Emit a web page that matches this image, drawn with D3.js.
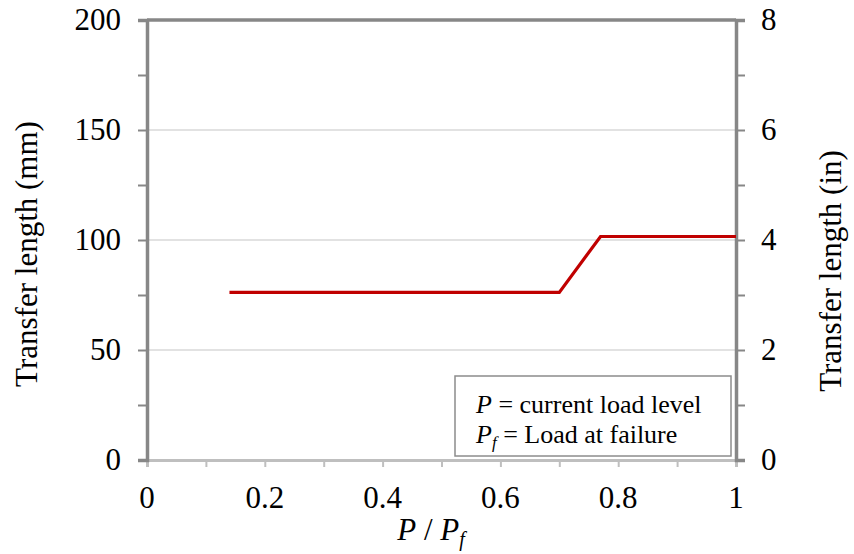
<!DOCTYPE html>
<html><head><meta charset="utf-8">
<script src="https://cdn.jsdelivr.net/npm/d3@7"></script>
<style>
@font-face { font-family: 'ChartSerif'; src: local('Liberation Serif'), local('LiberationSerif'); font-style: normal; font-weight: 400; }
@font-face { font-family: 'ChartSerif'; src: local('Liberation Serif Italic'), local('LiberationSerif-Italic'); font-style: italic; font-weight: 400; }
</style>
</head>
<body style="margin:0">
<svg id="chart" width="854" height="554"></svg>
<script>
const ratioX = [0.14, 0.70, 0.77, 1.0];
const transferMM = [76.2, 76.2, 101.6, 101.6];
const xTicks = [0, 0.2, 0.4, 0.6, 0.8, 1];
const xTickLabels = ["0", "0.2", "0.4", "0.6", "0.8", "1"];
const yTicksMM = [0, 50, 100, 150, 200];
const yTicksIn = [0, 2, 4, 6, 8];
const legendLines = [["P", "", " = current load level"], ["P", "f", " = Load at failure"]];

const FONT = "'Liberation Serif'";
const svg = d3.select("#chart");
const L = 147, R = 736, T = 20, B = 460;
const x = d3.scaleLinear().domain([0, 1]).range([L, R]);
const y = d3.scaleLinear().domain([0, 200]).range([B, T]);
const yIn = d3.scaleLinear().domain([0, 8]).range([B, T]);
const FS = 31;

function txt(sel) { return sel.style("font-family", FONT); }

// gridlines
svg.append("g").selectAll("line").data(yTicksMM.filter(d => d > 0 && d < 200)).join("line")
  .attr("x1", L).attr("x2", R).attr("y1", d => y(d)).attr("y2", d => y(d))
  .attr("stroke", "#d9d9d9").attr("stroke-width", 1.5);

// bottom axis
const xAxis = d3.axisBottom(x).tickValues(d3.range(0, 1.0001, 0.1)).tickSize(7).tickFormat("");
const gx = svg.append("g").attr("transform", `translate(0,${B})`).call(xAxis);
gx.select(".domain").attr("stroke", "#bfbfbf").attr("stroke-width", 3);
gx.selectAll(".tick line").attr("stroke", "#bfbfbf").attr("stroke-width", 2);
gx.selectAll(".tick text").remove();
xTicks.forEach((d, i) => {
  svg.append("text").attr("x", x(d)).attr("y", 508).attr("text-anchor", "middle")
    .style("font-family", FONT).style("font-size", FS + "px").text(xTickLabels[i]);
});

// left axis
const yAxis = d3.axisLeft(y).tickValues(d3.range(0, 201, 25)).tickSize(9).tickFormat("");
const gy = svg.append("g").attr("transform", `translate(${L},0)`).call(yAxis);
gy.select(".domain").attr("stroke", "#878787").attr("stroke-width", 3.5);
gy.selectAll(".tick line").attr("stroke", "#878787").attr("stroke-width", 2);
gy.selectAll(".tick text").remove();
yTicksMM.forEach(d => {
  svg.append("text").attr("x", 121).attr("y", y(d) + 10).attr("text-anchor", "end")
    .style("font-family", FONT).style("font-size", FS + "px").text(d);
});

// right axis
const yAxisR = d3.axisRight(yIn).tickValues(d3.range(0, 8.01, 1)).tickSize(9).tickFormat("");
const gr = svg.append("g").attr("transform", `translate(${R},0)`).call(yAxisR);
gr.select(".domain").attr("stroke", "#878787").attr("stroke-width", 3.5);
gr.selectAll(".tick line").attr("stroke", "#878787").attr("stroke-width", 2);
gr.selectAll(".tick text").remove();
yTicksIn.forEach(d => {
  svg.append("text").attr("x", 761).attr("y", yIn(d) + 10).attr("text-anchor", "start")
    .style("font-family", FONT).style("font-size", FS + "px").text(d);
});

// top border
svg.append("line").attr("x1", L).attr("x2", R).attr("y1", T).attr("y2", T)
  .attr("stroke", "#878787").attr("stroke-width", 3.5);

// data line
svg.append("path").datum(ratioX.map((d, i) => [d, transferMM[i]]))
  .attr("fill", "none").attr("stroke", "#c00000").attr("stroke-width", 3.2)
  .attr("d", d3.line().x(d => x(d[0])).y(d => y(d[1])));

// axis titles
svg.append("text").attr("transform", "translate(37,254) rotate(-90)")
  .attr("text-anchor", "middle").style("font-family", FONT).style("font-size", FS + "px").text("Transfer length (mm)");
svg.append("text").attr("transform", "translate(841,271) rotate(-90)")
  .attr("text-anchor", "middle").style("font-family", FONT).style("font-size", FS + "px").text("Transfer length (in)");

const xt = svg.append("text").attr("x", 431).attr("y", 540).attr("text-anchor", "middle")
  .style("font-family", FONT).style("font-size", FS + "px");
xt.append("tspan").style("font-style", "italic").text("P");
xt.append("tspan").text(" / ");
xt.append("tspan").style("font-style", "italic").text("P");
xt.append("tspan").style("font-style", "italic").style("font-size", "20px").attr("dy", 6).text("f");

// legend
svg.append("rect").attr("x", 455).attr("y", 376).attr("width", 276).attr("height", 80)
  .attr("fill", "#fff").attr("stroke", "#8c8c8c").attr("stroke-width", 1.5);
legendLines.forEach((ln, i) => {
  const t = svg.append("text").attr("x", 476).attr("y", 413 + i * 30)
    .style("font-family", FONT).style("font-size", "26px");
  t.append("tspan").style("font-style", "italic").text(ln[0]);
  if (ln[1]) t.append("tspan").style("font-style", "italic").style("font-size", "17px").attr("dy", 5).text(ln[1]);
  t.append("tspan").attr("dy", ln[1] ? -5 : 0).text(ln[2]);
});
</script>
</body></html>
